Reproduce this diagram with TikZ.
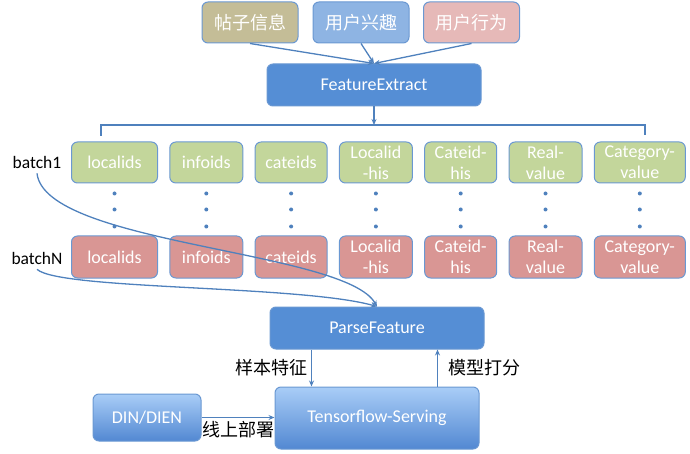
\documentclass[tikz,border=0pt]{standalone}
\usepackage{fontspec}
\setmainfont{Carlito}
\newfontfamily\cjk{Noto Sans CJK SC}
\usetikzlibrary{positioning, arrows.meta, calc}

\definecolor{khaki}{HTML}{C4BD97}
\definecolor{skyblue}{HTML}{8EB4E3}
\definecolor{rosy}{HTML}{E6B9B8}
\definecolor{featblue}{HTML}{558ED5}
\definecolor{pgreen}{HTML}{C3D69B}
\definecolor{pred}{HTML}{D99694}
\definecolor{edge}{HTML}{6A98D2}
\definecolor{lineblue}{HTML}{4F81BD}
\definecolor{lblue}{HTML}{A9CDF7}
\definecolor{dblue}{HTML}{5288D2}

\begin{document}
\begin{tikzpicture}[
    x=1pt, y=-1pt,
    box/.style={draw=edge, line width=1pt, rounded corners=6pt, text=white, align=center, inner sep=2pt, font=\fontsize{18}{21}\selectfont},
    topbox/.style={box, minimum width=96pt, minimum height=41pt, font=\cjk\fontsize{18}{20}\selectfont},
    feat/.style={box, fill=featblue, minimum width=214pt, minimum height=42pt},
    firstrow/.style={box, fill=pgreen, minimum height=41pt},
    lastrow/.style={box, fill=pred, minimum height=42pt},
    serve/.style={box, top color=lblue, bottom color=dblue},
    batch/.style={font=\fontsize{17.5}{20}\selectfont, inner sep=5pt},
    lbl/.style={font=\cjk\fontsize{18}{20}\selectfont, text=black},
    arr/.style={-{Stealth[length=6pt, width=5pt]}, line width=1.3pt, draw=lineblue},
    line/.style={line width=1.3pt, draw=lineblue}
]
    \useasboundingbox (0,0) rectangle (690,454);

    % sources
    \node[topbox, fill=khaki] (post) at (250,22.5) {帖子信息};
    \node[topbox, fill=skyblue] (interest) at (361,22.5) {用户兴趣};
    \node[topbox, fill=rosy] (action) at (471.5,22.5) {用户行为};
    \node[feat] (extract) at (374,85) {FeatureExtract};

    \draw[arr] (post.south) -- (extract.north);
    \draw[arr] (interest.south) -- (extract.north);
    \draw[arr] (action.south) -- (extract.north);

    % first batch
    \node[firstrow, minimum width=86pt, anchor=west] (lid1) at (71,162.5) {localids};
    \node[firstrow, minimum width=73pt, right=11.3pt of lid1] (iid1) {infoids};
    \node[firstrow, minimum width=72pt, right=11.3pt of iid1] (cid1) {cateids};
    \node[firstrow, minimum width=73pt, right=11.3pt of cid1] (lhis1) {Localid\\-his};
    \node[firstrow, minimum width=72pt, right=11.3pt of lhis1] (chis1) {Cateid-\\his};
    \node[firstrow, minimum width=73pt, right=11.3pt of chis1] (real1) {Real-\\value};
    \node[firstrow, minimum width=91pt, right=11.3pt of real1] (cat1) {Category-\\value};

    % last batch
    \node[lastrow, minimum width=86pt, below=52pt of lid1] (lidN) {localids};
    \node[lastrow, minimum width=73pt, below=52pt of iid1] (iidN) {infoids};
    \node[lastrow, minimum width=72pt, below=52pt of cid1] (cidN) {cateids};
    \node[lastrow, minimum width=73pt, below=52pt of lhis1] (lhisN) {Localid\\-his};
    \node[lastrow, minimum width=72pt, below=52pt of chis1] (chisN) {Cateid-\\his};
    \node[lastrow, minimum width=73pt, below=52pt of real1] (realN) {Real-\\value};
    \node[lastrow, minimum width=91pt, below=52pt of cat1] (catN) {Category-\\value};

    % dots between the batches
    \foreach \n in {lid, iid, cid, lhis, chis, real, cat} {
        \foreach \d in {10, 26, 43}
            \fill[lineblue] ($(\n1.south)+(0,\d)$) circle (2);
    }

    % split of the extracted features
    \coordinate (brl) at (101,125);
    \coordinate (brr) at (645,125);
    \draw[line] ($(brl)+(0,11)$) -- (brl) -- (brr) -- ($(brr)+(0,10)$);
    \draw[arr] (extract.south) -- (extract.south |- brl);

    \node[batch] (b1) at (37,162) {batch1};
    \node[batch] (bN) at (37,258) {batchN};

    % serving
    \node[feat] (parse) at (377,328) {ParseFeature};
    \node[serve, minimum width=204pt, minimum height=62pt] (tfs) at (377,418) {Tensorflow-Serving};
    \node[serve, minimum width=108pt, minimum height=47pt] (din) at (147,417.5) {DIN/DIEN};

    \draw[arr] (b1.south) .. controls (45,245) and (345,250) .. (parse.north);
    \draw[arr] (bN.south) .. controls (60,290) and (300,285) .. (parse.north);

    \coordinate (pd) at ($(parse.south west)+(42,0)$);
    \coordinate (pu) at ($(parse.south east)+(-47,0)$);
    \draw[arr] (pd) -- (pd |- tfs.north) node[midway, left, lbl] {样本特征};
    \draw[arr] (pu |- tfs.north) -- (pu) node[midway, right=7pt, lbl] {模型打分};
    \draw[arr] (din.east) -- (tfs.west |- din.east) node[midway, below, lbl] {线上部署};
\end{tikzpicture}
\end{document}
